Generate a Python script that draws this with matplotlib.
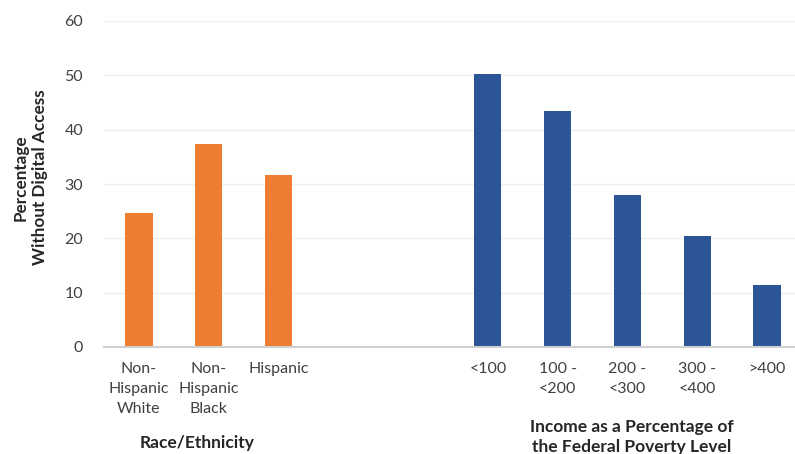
import numpy as np
import matplotlib.pyplot as plt

plt.rcParams['font.family'] = ['Lato', 'DejaVu Sans']

# ── data ──
race_labels   = ["Non-\nHispanic\nWhite", "Non-\nHispanic\nBlack", "Hispanic"]
race_values   = [24.6, 37.4, 31.6]
income_labels = ["<100", "100 -\n<200", "200 -\n<300", "300 -\n<400", ">400"]
income_values = [50.2, 43.5, 27.9, 20.4, 11.5]

ORANGE = "#ED7D31"
BLUE   = "#2B5597"
GAP    = 2   # empty slots between the two groups

race_x   = np.arange(len(race_labels))
income_x = np.arange(len(income_labels)) + len(race_labels) + GAP

fig = plt.figure(figsize=(7.95, 4.54), dpi=100)
ax  = fig.add_axes([104 / 795, 107 / 454, 691 / 795, 326 / 454])

bw = 0.39
ax.bar(race_x, race_values, width=bw, color=ORANGE, zorder=3)
ax.bar(income_x, income_values, width=bw, color=BLUE, zorder=3)

ax.set_xlim(-0.5, 9.4)
ax.set_ylim(0, 60)
ax.set_yticks(range(0, 61, 10))
ax.set_xticks(np.concatenate([race_x, income_x]))
ax.set_xticklabels(race_labels + income_labels, fontsize=11.5, color="#404040",
                   linespacing=1.52)
ax.tick_params(axis="both", length=0, labelsize=11.5, labelcolor="#404040")
ax.tick_params(axis="x", pad=11)
ax.tick_params(axis="y", pad=15)

ax.grid(axis="y", color="#efefef", linewidth=1, zorder=0)
for side in ("top", "right", "left"):
    ax.spines[side].set_visible(False)
ax.spines["bottom"].set_color("#d0d0d0")
ax.spines["bottom"].set_linewidth(1.5)
ax.spines["bottom"].set_zorder(4)

ax.set_ylabel("Percentage\nWithout Digital Access", fontsize=12.3, fontweight="bold",
              color="#262626", linespacing=1.3)
ax.yaxis.set_label_coords(-0.081, 0.52)

# group titles under the category labels
fig.text(197 / 795, 1 - 443 / 454, "Race/Ethnicity", ha="center", va="center",
         fontsize=12.5, fontweight="bold", color="#262626")
fig.text(632 / 795, 1 - 437 / 454, "Income as a Percentage of\nthe Federal Poverty Level",
         ha="center", va="center", fontsize=12.5, fontweight="bold", color="#262626",
         linespacing=1.36)

plt.savefig("out.png", dpi=100)
